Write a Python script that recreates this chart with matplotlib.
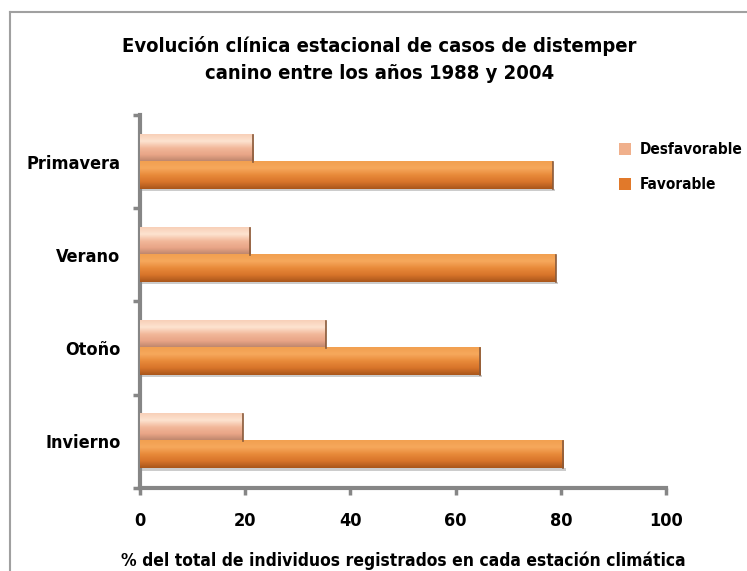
import numpy as np
import matplotlib
matplotlib.use('Agg')
import matplotlib.pyplot as plt
from matplotlib.colors import LinearSegmentedColormap
from matplotlib.lines import Line2D

#======== Data ========
seasons = ['Primavera', 'Verano', 'Otoño', 'Invierno']
desfavorable = [21.5, 21.0, 35.3, 19.5]
favorable = [78.5, 79.0, 64.7, 80.5]
xticks = [0, 20, 40, 60, 80, 100]

title = 'Evolución clínica estacional de casos de distemper\ncanino entre los años 1988 y 2004'
xlabel = '% del total de individuos registrados en cada estación climática'

plt.rcParams['font.family'] = ['DejaVu Sans']
plt.rcParams['font.stretch'] = 'condensed'
plt.rcParams['font.weight'] = 'bold'

# gradient colour maps for the bevelled bars
fav_cmap = LinearSegmentedColormap.from_list('fav', ['#a9561b', '#d8742a', '#e88a3a', '#f6a85c', '#f2a050'])
desf_cmap = LinearSegmentedColormap.from_list('desf', ['#b9836a', '#e8a486', '#f2b89a', '#fde3d0', '#f8d0b8'])

fig = plt.figure(figsize=(7.47, 5.71), dpi=100)
ax = fig.add_axes([0.1874, 0.1454, 0.7042, 0.6532])

y = np.arange(len(seasons))[::-1].astype(float)
h = 0.29
b_desf = ax.barh(y + h / 2, desfavorable, height=h, color='#f0b08c', label='Desfavorable', zorder=2)
b_fav = ax.barh(y - h / 2, favorable, height=h, color='#e1792a', label='Favorable', zorder=2)

# vertical gradient + shadow on each bar
grad = np.linspace(0, 1, 64).reshape(-1, 1)
for bars, cmap in [(b_desf, desf_cmap), (b_fav, fav_cmap)]:
    for r in bars:
        x0, y0, w, hh = r.get_x(), r.get_y(), r.get_width(), r.get_height()
        ax.imshow(grad, cmap=cmap, aspect='auto', origin='lower',
                  extent=(x0, x0 + w, y0, y0 + hh), zorder=3)
        ax.fill_between([x0, x0 + w + 0.4], y0 - 0.025, y0, color='#cccccc', zorder=1, lw=0)
        ax.plot([x0 + w, x0 + w], [y0, y0 + hh], color='#8a5a3a', lw=1.2, zorder=4)

ax.set_xlim(0, 100)
ax.set_ylim(-0.5, len(seasons) - 0.5)
ax.set_xticks(xticks)
ax.set_xticklabels([str(t) for t in xticks], fontsize=13, fontweight='bold')
ax.set_yticks(y)
ax.set_yticklabels(seasons, fontsize=13, fontweight='bold')
ax.set_yticks(np.arange(-0.5, len(seasons), 1.0), minor=True)
ax.tick_params(axis='y', which='major', length=0, pad=14)
ax.tick_params(axis='y', which='minor', length=5, width=2.5, color='#868686')
ax.tick_params(axis='x', length=5, width=2.5, color='#868686', pad=12)

for s in ['top', 'right']:
    ax.spines[s].set_visible(False)
for s in ['left', 'bottom']:
    ax.spines[s].set_color('#868686')
    ax.spines[s].set_linewidth(3)

ax.set_xlabel(xlabel, fontsize=12.5, fontweight='bold', labelpad=16)

fig.text(0.508, 0.937, title, ha='center', va='top', fontsize=14.5, fontweight='bold', linespacing=1.55)

leg = fig.legend(handles=[b_desf, b_fav], loc='upper left', bbox_to_anchor=(0.81, 0.775),
                 frameon=False, handlelength=0.8, handleheight=0.8,
                 handletextpad=0.6, labelspacing=1.3, prop={'weight': 'bold', 'size': 11, 'stretch': 'condensed'})

# outer chart frame (cut off at right and bottom)
fig.add_artist(Line2D([10 / 747, 10 / 747], [0, 1 - 12 / 571], transform=fig.transFigure, color='#a0a0a0', lw=1.5))
fig.add_artist(Line2D([10 / 747, 1], [1 - 12 / 571, 1 - 12 / 571], transform=fig.transFigure, color='#a0a0a0', lw=1.5))

fig.savefig('out.png', dpi=100)
